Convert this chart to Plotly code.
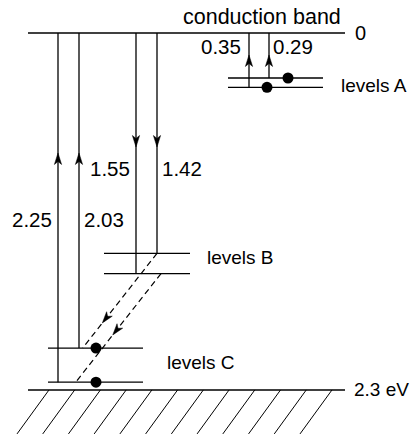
import numpy as np
import plotly.graph_objects as go

# ---- data (energies in eV, measured downward from the conduction band) ----
band_labels = ["conduction band", "2.3 eV"]
band_energies = [0.0, 2.3]
levels_A = [0.29, 0.35]
levels_B = [1.42, 1.55]
levels_C = [2.03, 2.25]
trans_A = [0.35, 0.29]      # up from levels A to conduction band
trans_B = [1.55, 1.42]      # down from conduction band to levels B
trans_C = [2.25, 2.03]      # up from levels C to conduction band
level_names = ["levels A", "levels B", "levels C"]

# ---- layout geometry (diagram units = pixels horizontally) ----
W, H = 415, 434
y_top, y_bot = -0.2126, 2.584
K = H / (y_bot - y_top)  # px per eV
FAM = "Liberation Sans, Arial, sans-serif"

fig = go.Figure()

def add_line(xs, ys, width=1.4, dash=None):
    fig.add_trace(go.Scatter(x=xs, y=ys, mode="lines", hoverinfo="skip",
                             line=dict(color="black", width=width, dash=dash),
                             showlegend=False))

def arrowhead(x_tip, e_tip, dxp, dyp, L=11.5, w=3.6, notch=3.0):
    n = np.hypot(dxp, dyp)
    dx, dy = dxp / n, dyp / n
    nx, ny = -dy, dx
    pts_px = [(0, 0),
              (-L * dx + w * nx, -L * dy + w * ny),
              (-(L - notch) * dx, -(L - notch) * dy),
              (-L * dx - w * nx, -L * dy - w * ny),
              (0, 0)]
    xs = [x_tip + p[0] for p in pts_px]
    ys = [e_tip + p[1] / K for p in pts_px]
    fig.add_trace(go.Scatter(x=xs, y=ys, mode="lines", fill="toself",
                             fillcolor="black", line=dict(color="black", width=0.5),
                             hoverinfo="skip", showlegend=False))

# band edges
for e in band_energies:
    add_line([28, 345], [e, e], width=1.6)

# levels
for e in levels_A:
    add_line([228, 323], [e, e], width=1.3)
for e in levels_B:
    add_line([104, 190], [e, e], width=1.3)
for e in levels_C:
    add_line([48, 143], [e, e], width=1.3)

# vertical transitions
xA = [249, 269]
xB = [136, 157]
xC = [58, 79]
for x, e in zip(xA, trans_A):
    add_line([x, x], [e, 0], width=1.3)
    arrowhead(x, (55 - 33) / K, 0, -1)
for x, e in zip(xB, trans_B):
    add_line([x, x], [0, e], width=1.3)
    arrowhead(x, (147 - 33) / K, 0, 1)
for x, e in zip(xC, trans_C):
    add_line([x, x], [e, 0], width=1.3)
    arrowhead(x, (153 - 33) / K, 0, -1)

# dashed relaxations B -> C
slope = -0.785  # px in x per px in y
starts = [(157, levels_B[0], levels_C[0]), (161, levels_B[1], levels_C[1])]
tips_y = [323, 335]
for (x0, e0, e1), ty in zip(starts, tips_y):
    x1 = x0 + slope * (e1 - e0) * K
    add_line([x0, x1], [e0, e1], width=1.2, dash="6px,4px")
    et = (ty - 33) / K
    xt = x0 + slope * (et - e0) * K
    arrowhead(xt, et, slope, 1)

# electrons
fig.add_trace(go.Scatter(x=[288, 267, 96, 96],
                         y=[levels_A[0], levels_A[1], levels_C[0], levels_C[1]],
                         mode="markers", marker=dict(color="black", size=11),
                         hoverinfo="skip", showlegend=False))

# hatching below valence band
for xt in np.linspace(49, 332, 12):
    add_line([xt, xt - 32], [band_energies[1], band_energies[1] + 44 / K], width=1.0)

# texts
def text(x, e, s, anchor="left", size=19):
    fig.add_annotation(x=x, y=e, text=s, showarrow=False, xanchor=anchor,
                       yanchor="middle", font=dict(family=FAM, size=size, color="black"))

text(262, (17.5 - 33) / K, band_labels[0], "center", size=21.5)
text(353, band_energies[0], "0", size=20)
text(352, band_energies[1], band_labels[1], size=19)
text(339, (86 - 33) / K, level_names[0])
text(205, (258 - 33) / K, level_names[1])
text(165, (363 - 33) / K, level_names[2])
eA, eB, eC = (47 - 33) / K, (169 - 33) / K, (220 - 33) / K
NS = 20.5
text(243, eA, f"{trans_A[0]:.2f}", "right", NS)
text(271, eA, f"{trans_A[1]:.2f}", "left", NS)
text(132, eB, f"{trans_B[0]:.2f}", "right", NS)
text(160, eB, f"{trans_B[1]:.2f}", "left", NS)
text(54, eC, f"{trans_C[0]:.2f}", "right", NS)
text(82, eC, f"{trans_C[1]:.2f}", "left", NS)

fig.update_layout(
    width=W, height=H, margin=dict(l=0, r=0, t=0, b=0),
    paper_bgcolor="white", plot_bgcolor="white",
    xaxis=dict(range=[0, W], visible=False, fixedrange=True),
    yaxis=dict(range=[y_bot, y_top], visible=False, fixedrange=True),
    showlegend=False,
)
fig.write_html("out.html")
